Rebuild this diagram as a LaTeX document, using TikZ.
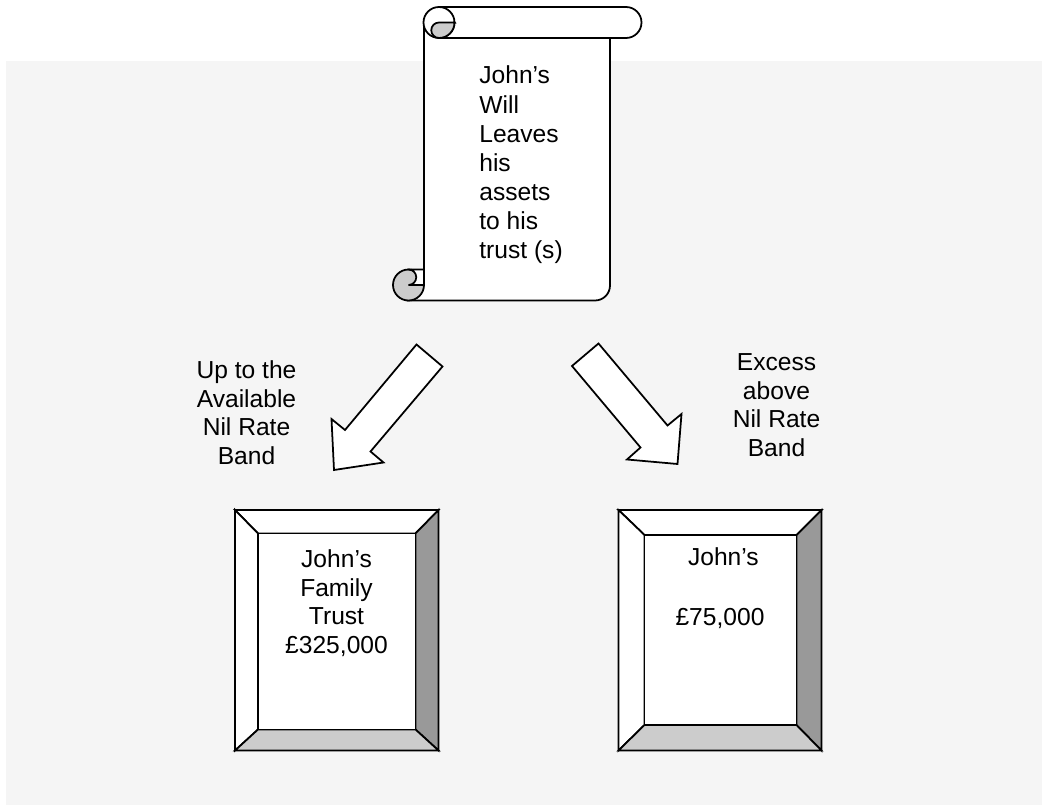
\documentclass[tikz,border=0pt]{standalone}
\usepackage{fontspec}
\setmainfont{Liberation Sans}
\tikzset{
  outline/.style={draw=black,line width=1pt,line join=miter},
  label/.style={inner sep=0pt,align=center,anchor=base,font=\fontsize{14}{16.3}\selectfont},
  lightface/.style={outline,fill=white},
  midface/.style={outline,fill=black!20},
  darkface/.style={outline,fill=black!40}
}
\begin{document}
\begin{tikzpicture}
\useasboundingbox (0,0) rectangle (20.84,16.1);
\fill[black!4] (0.12,0) rectangle (20.84,14.88);
\coordinate (TL) at (8.48,15.65);
\coordinate (BL) at (8.48,10.40);
\coordinate (BR) at (12.2,10.09);
\coordinate (TR) at (12.2,15.34);
\draw[lightface] (TL) -- (BL) -- (8.17,10.09) -- (11.9,10.09) arc (-90:0:0.3) -- (TR) -- cycle;
\draw[lightface] (8.78,15.96) -- (12.52,15.96) arc (90:-90:0.31) -- (8.78,15.34) -- cycle;
\draw[lightface] (8.78,15.65) circle (0.31);
\draw[midface] (9.09,15.65) -- (8.78,15.65) arc (90:270:0.155) arc (-90:0:0.31) -- cycle;
\draw[midface] (8.17,10.40) circle (0.31);
\draw[lightface] (8.17,10.71) -- (8.48,10.71) -- (BL) -- (8.17,10.40) arc (-90:90:0.155) -- cycle;
\node[label,align=left,anchor=base west,font=\fontsize{14}{16.6}\selectfont] (will) at (9.58,10.92) {John’s\\Will\\Leaves\\his\\assets\\to his\\trust (s)};
\draw[lightface] (8.33,9.21) -- (8.85,8.77) -- (7.41,7.07) -- (7.67,6.85) -- (6.68,6.70) -- (6.63,7.72) -- (6.90,7.50) -- cycle;
\draw[lightface] (11.97,9.23) -- (11.44,8.78) -- (12.81,7.15) -- (12.54,6.91) -- (13.55,6.82) -- (13.63,7.82) -- (13.35,7.59) -- cycle;
\node[label] (upto) at (4.93,6.81) {Up to the\\Available\\Nil Rate\\Band};
\node[label] (excess) at (15.53,6.97) {Excess\\above\\Nil Rate\\Band};
\coordinate (A1) at (4.70,5.90);
\coordinate (A2) at (8.77,5.90);
\coordinate (A3) at (8.77,1.09);
\coordinate (A4) at (4.70,1.09);
\coordinate (a1) at (5.16,5.43);
\coordinate (a2) at (8.31,5.43);
\coordinate (a3) at (8.31,1.51);
\coordinate (a4) at (5.16,1.51);
\draw[lightface] (A1) -- (A2) -- (a2) -- (a1) -- cycle;
\draw[lightface] (A1) -- (a1) -- (a4) -- (A4) -- cycle;
\draw[darkface] (A2) -- (A3) -- (a3) -- (a2) -- cycle;
\draw[midface] (A4) -- (a4) -- (a3) -- (A3) -- cycle;
\draw[lightface] (a1) rectangle (a3);
\node[label] (family) at (6.73,3.03) {John’s\\Family\\Trust\\£325,000};
\coordinate (B1) at (12.37,5.90);
\coordinate (B2) at (16.43,5.90);
\coordinate (B3) at (16.43,1.09);
\coordinate (B4) at (12.37,1.09);
\coordinate (b1) at (12.89,5.40);
\coordinate (b2) at (15.93,5.40);
\coordinate (b3) at (15.93,1.60);
\coordinate (b4) at (12.89,1.60);
\draw[lightface] (B1) -- (B2) -- (b2) -- (b1) -- cycle;
\draw[lightface] (B1) -- (b1) -- (b4) -- (B4) -- cycle;
\draw[darkface] (B2) -- (B3) -- (b3) -- (b2) -- cycle;
\draw[midface] (B4) -- (b4) -- (b3) -- (B3) -- cycle;
\draw[lightface] (b1) rectangle (b3);
\node[label] (excesstrust) at (14.40,3.60) {\ John’s\\[17.3pt]£75,000};
\end{tikzpicture}
\end{document}
